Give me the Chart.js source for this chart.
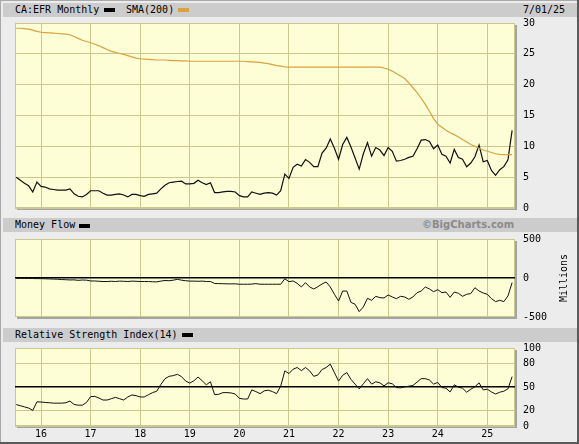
<!DOCTYPE html>
<html>
<head>
<meta charset="utf-8">
<script src="https://cdn.jsdelivr.net/npm/chart.js@4.4.1/dist/chart.umd.min.js"></script>
<style>
  body { margin: 0; background: #ececec; }
  #wrap { position: relative; width: 579px; height: 444px; overflow: hidden; background: #ececec;
          font-family: "DejaVu Sans Mono", monospace; font-size: 10px; color: #000; }
  canvas { position: absolute; left: 0; }
  .bar { position: absolute; left: 3px; width: 576px; height: 14px; background: #cccccc; }
  .txt { position: absolute; top: 1px; white-space: pre; line-height: 12px; }
  .sw { position: absolute; width: 11px; height: 4px; }
  .edge { position: absolute; }
</style>
</head>
<body>
<div id="wrap">
  <canvas id="cPrice" width="579" height="206" style="top:10px"></canvas>
  <canvas id="cFlow" width="579" height="88" style="top:234px"></canvas>
  <canvas id="cRsi" width="579" height="101" style="top:343px"></canvas>

  <div class="bar" style="top:3px">
    <span class="txt" style="left:12px">CA:EFR Monthly</span>
    <span class="sw" style="left:101px;top:5px;background:#000"></span>
    <span class="txt" style="left:123px">SMA(200)</span>
    <span class="sw" style="left:175px;top:5px;background:#d9a33d"></span>
    <span class="txt" style="left:520px">7/01/25</span>
  </div>
  <div class="bar" style="top:218px">
    <span class="txt" style="left:12px">Money Flow</span>
    <span class="sw" style="left:76px;top:6px;background:#000"></span>
    <span class="txt" style="left:419px;font:bold 10px 'DejaVu Sans';color:#8a8a8a;top:1px">©BigCharts.com</span>
  </div>
  <div class="bar" style="top:328px">
    <span class="txt" style="left:12px">Relative Strength Index(14)</span>
    <span class="sw" style="left:179px;top:5px;background:#000"></span>
  </div>
  <div class="txt" style="left:540px;top:272px;transform:rotate(-90deg);transform-origin:center">Millions</div>

  <div class="edge" style="left:0;top:0;width:579px;height:1px;background:#a8a8a8"></div>
  <div class="edge" style="left:0;top:0;width:1px;height:444px;background:#a8a8a8"></div>
  <div class="edge" style="left:577px;top:0;width:2px;height:444px;background:#5a5a5a"></div>
  <div class="edge" style="left:0;top:442px;width:579px;height:2px;background:#5a5a5a"></div>
</div>

<script>
// months counted from Jan 2016 (0); first bar is Jul 2015
const firstMonth = -6;
const yearTicks  = [0, 12, 24, 36, 48, 60, 72, 84, 96, 108];
const yearLabels = ['16', '17', '18', '19', '20', '21', '22', '23', '24', '25'];

const price = [
  5.0, 4.5, 4.0, 3.6, 2.6, 4.2,
  3.5, 3.4, 3.1, 3.0, 2.9, 2.9, 2.9, 3.1, 2.3, 1.9, 1.8, 2.2,
  2.8, 2.8, 2.8, 2.4, 2.1, 2.1, 2.2, 2.3, 2.1, 1.8, 2.2, 2.2,
  2.0, 1.9, 2.2, 2.3, 2.4, 3.1, 3.7, 4.1, 4.2, 4.3, 4.35, 3.9,
  3.9, 4.0, 4.5, 4.1, 3.8, 4.1, 2.5, 2.5, 2.6, 2.7, 2.7, 2.6,
  2.0, 1.8, 1.8, 2.6, 2.4, 2.2, 2.4, 2.5, 2.4, 2.1, 2.8, 5.5,
  4.8, 6.6, 7.1, 6.8, 7.85, 7.4, 6.7, 6.7, 8.9, 9.7, 11.2, 9.7,
  7.9, 10.3, 11.45, 9.9, 8.1, 6.3, 8.8, 10.6, 8.4, 9.8, 9.4, 8.5,
  9.8, 9.2, 7.6, 7.7, 7.9, 8.2, 8.4, 9.6, 11.0, 11.1, 10.8, 9.6,
  10.2, 8.7, 8.4, 7.3, 9.5, 8.2, 7.9, 6.7, 7.3, 8.3, 10.2, 7.5,
  7.7, 6.1, 5.3, 6.2, 6.7, 7.8, 12.6
];

const sma200 = [
  29.15, 29.15, 29.1, 29.0, 28.85, 28.65,
  28.5, 28.45, 28.4, 28.35, 28.3, 28.25, 28.2, 28.1, 27.8, 27.5, 27.2, 27.0,
  26.8, 26.55, 26.3, 26.0, 25.7, 25.4, 25.25, 25.05, 24.9, 24.7, 24.5, 24.3,
  24.2, 24.15, 24.1, 24.05, 24.0, 24.0, 24.0, 23.95, 23.9, 23.9, 23.85, 23.85,
  23.8, 23.8, 23.8, 23.8, 23.8, 23.8, 23.8, 23.8, 23.8, 23.8, 23.8, 23.8,
  23.8, 23.8, 23.75, 23.7, 23.65, 23.6, 23.5, 23.4, 23.25, 23.1, 23.0, 22.9,
  22.85, 22.85, 22.85, 22.85, 22.85, 22.85, 22.85, 22.85, 22.85, 22.85, 22.85, 22.85,
  22.85, 22.85, 22.85, 22.85, 22.85, 22.85, 22.85, 22.85, 22.85, 22.85, 22.85, 22.7,
  22.5, 22.2, 21.8, 21.4, 21.0, 20.3, 19.5, 18.7, 17.8, 16.8, 15.7, 14.5,
  13.6, 13.1, 12.6, 12.2, 11.9, 11.5, 11.1, 10.7, 10.3, 10.0, 9.7, 9.4,
  9.2, 9.0, 8.8, 8.7, 8.65, 8.65, 8.65
];

const moneyFlow = [
  -5, -5, -6, -6, -7, -8,
  -8, -10, -12, -14, -16, -20, -22, -25, -24, -30, -26, -28,
  -38, -38, -42, -45, -45, -42, -45, -40, -42, -45, -40, -42,
  -45, -45, -45, -48, -50, -40, -32, -35, -28, -17, -28, -35,
  -40, -40, -42, -40, -45, -45, -70, -72, -73, -75, -75, -75,
  -80, -80, -80, -78, -72, -80, -80, -80, -80, -80, -80, -10,
  -47, -38, -68, -115, -60, -115, -141, -111, -77, -51, -115, -209,
  -295, -167, -167, -312, -337, -431, -371, -260, -286, -235, -252, -256,
  -218, -243, -265, -235, -243, -273, -243, -188, -167, -115, -141, -175,
  -150, -188, -180, -248, -180, -196, -235, -209, -200, -124, -167, -192,
  -209, -265, -303, -286, -303, -230, -60
];
const flowTicks = [-500, 0, 500];

const rsi14 = [
  27.5, 26, 24.5, 23, 20, 31,
  30.7, 30.2, 29.8, 29.3, 29.3, 29.3, 29.8, 32, 27.6, 26.7, 26.7, 30.2,
  37.6, 38, 35.9, 33.3, 33.3, 35, 36.7, 35, 33.3, 37.2, 39.8, 38.9,
  37.2, 37.2, 40.2, 42.8, 44.6, 53.3, 60.7, 63.7, 64.6, 66.3, 63.3, 57.6,
  55, 58, 62.8, 58, 52.8, 56.7, 40.2, 40.7, 42.8, 42.8, 42.4, 41,
  35.4, 34.6, 34.6, 46.3, 44.1, 41.5, 45, 45.9, 44.1, 41.5, 51, 70.7,
  67.2, 72.8, 75, 71, 75, 70.7, 63.7, 65.4, 72.4, 75, 79.3, 68.5,
  57.6, 65, 68.5, 59.8, 53.7, 47.6, 54.1, 60.7, 53.7, 56.7, 55.4, 51.5,
  55.4, 54.1, 49.3, 48.9, 50.2, 51, 52, 56.3, 60.7, 60.7, 58.9, 53.7,
  55.9, 49.3, 48.5, 43.7, 52.8, 49.8, 48.5, 43.3, 47.2, 50.2, 55.4, 46.3,
  47.2, 43.7, 41, 43.3, 44.6, 47.6, 63.3
];
const rsiTicks = [0, 20, 50, 80, 100];

/* ---- styles ---- */
const PLOT_BG  = '#fdfdd6';
const GRID     = '#c9c98e';
const SHADOW   = '#a4a4a4';
const TICKFONT = { family: 'DejaVu Sans Mono', size: 10 };

function points(arr) {
  return arr.map((v, i) => ({ x: firstMonth + i, y: v }));
}

// yellow plot area, olive frame, grey drop shadow
const plotFrame = {
  id: 'plotFrame',
  beforeDraw(chart) {
    const { ctx, chartArea: a } = chart;
    ctx.save();
    ctx.fillStyle = SHADOW;
    ctx.fillRect(a.left + 2, a.top + 2, a.right - a.left, a.bottom - a.top);
    ctx.fillStyle = PLOT_BG;
    ctx.fillRect(a.left, a.top, a.right - a.left, a.bottom - a.top);
    ctx.strokeStyle = GRID;
    ctx.lineWidth = 1;
    ctx.strokeRect(a.left + 0.5, a.top + 0.5, a.right - a.left - 1, a.bottom - a.top - 1);
    ctx.restore();
  }
};

function xScale(showLabels) {
  return {
    type: 'linear',
    min: -6.3,
    max: 114.7,
    border: { display: false },
    grid: { color: GRID, drawTicks: false },
    ticks: {
      display: showLabels,
      font: TICKFONT,
      color: '#000',
      padding: 2,
      maxRotation: 0,
      callback: (v, i) => yearLabels[i]
    },
    afterBuildTicks: s => { s.ticks = yearTicks.map(v => ({ value: v })); },
    afterFit: s => { s.height = showLabels ? 18 : 0; s.paddingLeft = 0; s.paddingRight = 0; }
  };
}

function yScale(min, max, tickList, gridColor, gridWidth) {
  return {
    type: 'linear',
    position: 'right',
    min: min,
    max: max,
    border: { display: false },
    grid: { color: gridColor, lineWidth: gridWidth || 1, drawTicks: false },
    ticks: { font: TICKFONT, color: '#000', padding: 8 },
    afterBuildTicks: s => { s.ticks = tickList.map(v => ({ value: v })); },
    afterFit: s => { s.width = 64; s.paddingTop = 0; s.paddingBottom = 0; }
  };
}

function baseOptions(pad, x, y) {
  return {
    responsive: false,
    animation: false,
    devicePixelRatio: 1,
    layout: { padding: pad },
    plugins: { legend: { display: false }, tooltip: { enabled: false } },
    elements: { point: { radius: 0 }, line: { tension: 0 } },
    scales: { x: x, y: y }
  };
}

/* ---- price + SMA(200) ---- */
new Chart(document.getElementById('cPrice'), {
  type: 'line',
  data: {
    datasets: [
      { label: 'SMA(200)', data: points(sma200), borderColor: '#d9a33d', borderWidth: 1.2 },
      { label: 'CA:EFR', data: points(price), borderColor: '#111', borderWidth: 1.2 }
    ]
  },
  options: baseOptions({ left: 15, right: 0, top: 13, bottom: 8 },
    xScale(false),
    yScale(0, 30, [0, 5, 10, 15, 20, 25, 30], GRID)),
  plugins: [plotFrame]
});

/* ---- money flow ---- */
new Chart(document.getElementById('cFlow'), {
  type: 'line',
  data: {
    datasets: [
      { label: 'Money Flow', data: points(moneyFlow), borderColor: '#111', borderWidth: 1 }
    ]
  },
  options: baseOptions({ left: 15, right: 0, top: 5, bottom: 5 },
    xScale(false),
    yScale(-500, 500, flowTicks,
      c => c.tick && c.tick.value === 0 ? '#000' : 'rgba(0,0,0,0)',
      c => c.tick && c.tick.value === 0 ? 1.5 : 1)),
  plugins: [plotFrame]
});

/* ---- RSI(14) ---- */
new Chart(document.getElementById('cRsi'), {
  type: 'line',
  data: {
    datasets: [
      { label: 'RSI(14)', data: points(rsi14), borderColor: '#111', borderWidth: 1 }
    ]
  },
  options: baseOptions({ left: 15, right: 0, top: 5, bottom: 0 },
    xScale(true),
    yScale(0, 100, rsiTicks,
      c => c.tick && c.tick.value === 50 ? '#000' : GRID,
      c => c.tick && c.tick.value === 50 ? 1.5 : 1)),
  plugins: [plotFrame]
});
</script>
</body>
</html>
